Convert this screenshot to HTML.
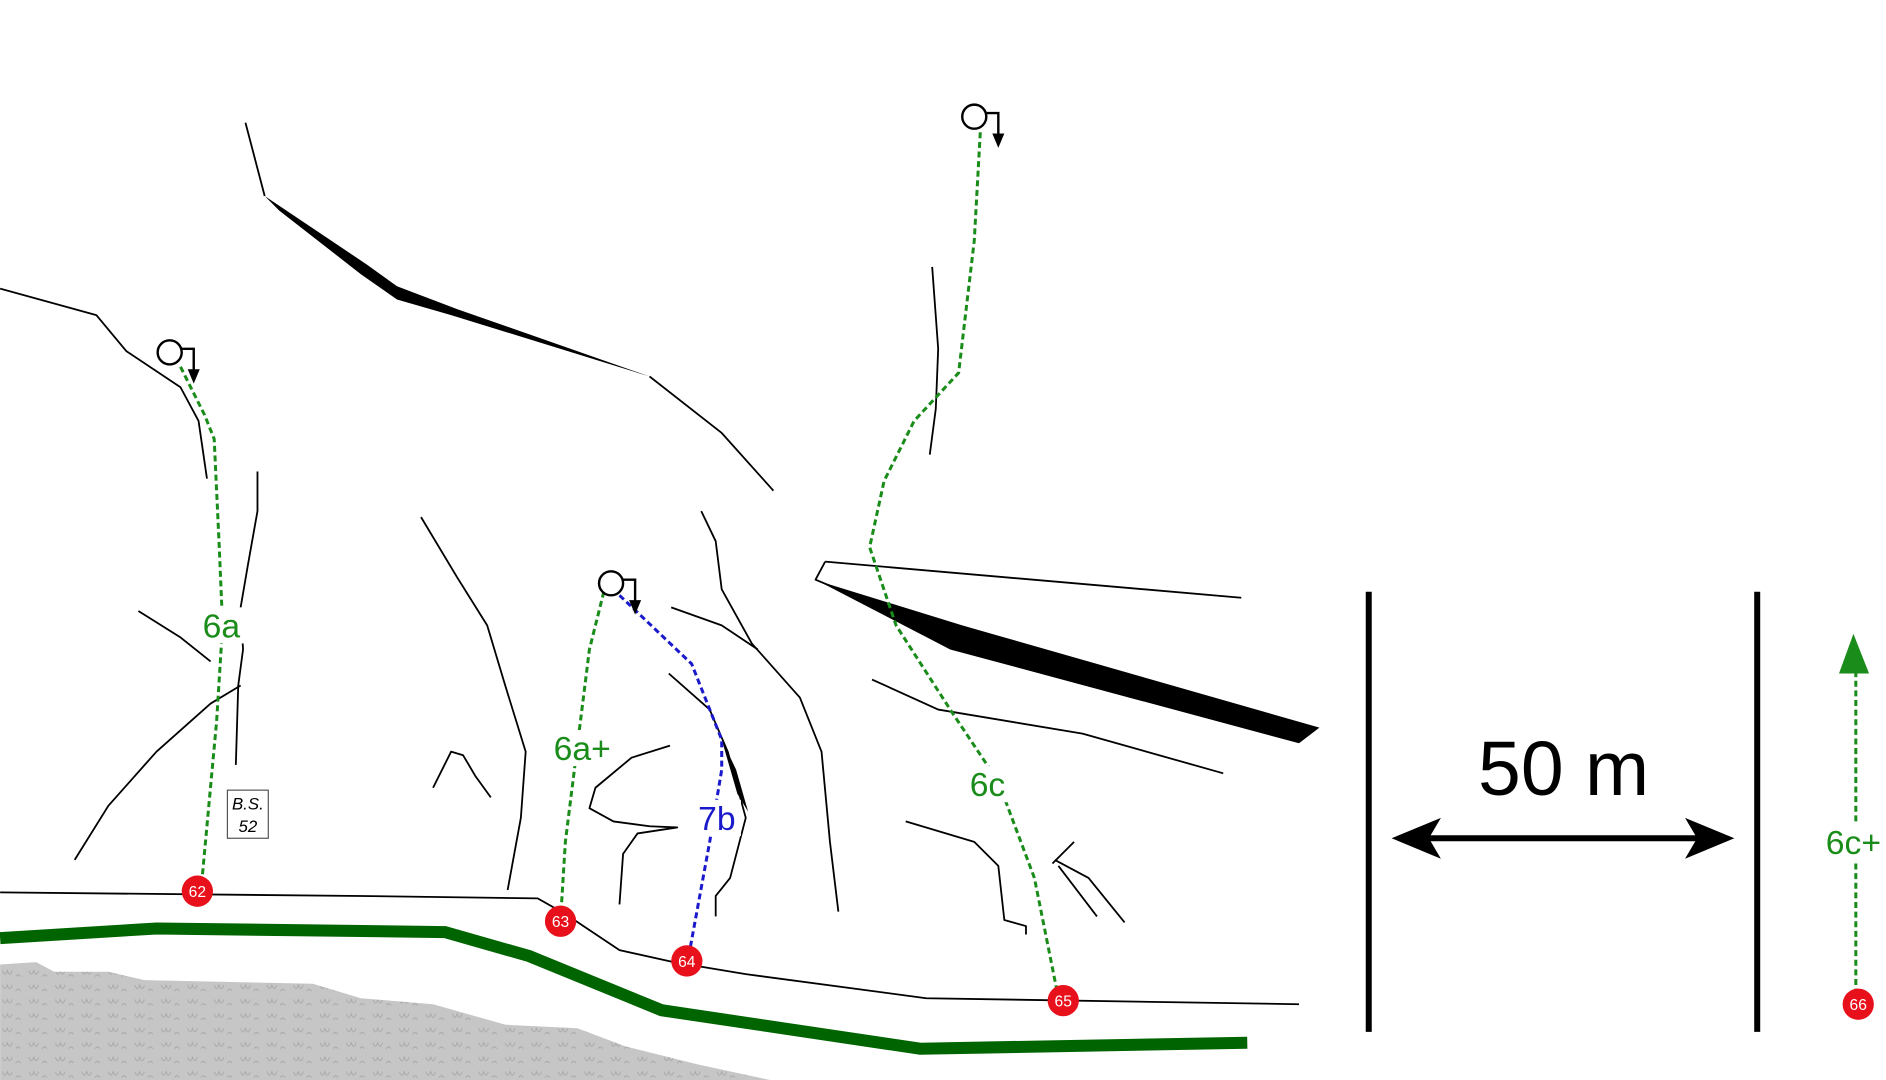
<!DOCTYPE html>
<html><head><meta charset="utf-8"><style>
html,body{margin:0;padding:0;background:#fff;}
svg{display:block;}
text{font-family:"Liberation Sans",sans-serif;}
</style></head><body>
<svg width="1886" height="1080" viewBox="0 0 1568 898" xmlns="http://www.w3.org/2000/svg">
<defs>
<pattern id="scr" width="22" height="12" patternUnits="userSpaceOnUse">
<rect width="22" height="12" fill="#c6c6c6"/>
<path d="M2 3 q2 6 4 0 q2 6 4 0 M13 8 q2 -3 4 0" stroke="#a8a8a8" fill="none" stroke-width="0.8"/>
</pattern>
<g id="anc"><circle cx="0" cy="0" r="10" fill="#fff" stroke="#000" stroke-width="2"/><path d="M10 -3 H20 V18" fill="none" stroke="#000" stroke-width="2"/><polygon points="15,14 25,14 20,26" fill="#000"/></g>
</defs>
<rect width="1568" height="898" fill="#fff"/>
<polygon points="0,802 30,800 45,808 90,808 120,815 260,818 300,830 360,835 420,852 480,855 520,870 580,885 640,898 0,898" fill="url(#scr)"/>
<g fill="none" stroke="#000" stroke-width="1.5" stroke-linejoin="round">
<polyline points="0,240 80,262 105,292 150,322 165,350 172,398"/>
<polyline points="204,102 220,163"/>
<polyline points="540,313 600,360 643,408"/>
<polyline points="214,392 214,425 206,470 200,505 202,540 198,570 196,636"/>
<polyline points="115,508 150,530 175,550"/>
<polyline points="62,715 90,670 130,625 175,585 200,570"/>
<polyline points="350,430 380,480 405,520 420,570 437,625 433,680 422,740"/>
<polyline points="360,655 375,625 385,628 395,645 408,663"/>
<polyline points="557,620 525,630 495,655 490,672 510,683 540,687 563,688 530,693 518,710 515,752"/>
<polyline points="583,425 595,450 600,490 625,535 665,580 683,625 690,700 697,758"/>
<polyline points="558,505 600,520 630,540"/>
<polyline points="556,560 590,590 605,625 620,680 607,730 595,745 595,762"/>
<polyline points="775,222 780,290 778,340 773,378"/>
<polyline points="686,467 1032,497"/>
<polyline points="686,467 678,482 690,487"/>
<polyline points="725,565 780,590 900,610 1017,643"/>
<polyline points="753,683 810,700 830,720 835,765 853,770 853,777"/>
<polyline points="875,718 893,700"/>
<polyline points="877,715 905,730 935,767"/>
<polyline points="880,720 912,762"/>
<polyline points="0,742 300,745 447,747 470,760 515,790 560,800 620,810 770,830 1080,835"/>
</g>
<g fill="#000">
<polygon points="220,163 305,220 330,238 380,257 540,313 375,262 330,249 300,228 232,175"/>
<polygon points="600,615 612,640 622,675 613,660"/>
<polygon points="680,483 800,520 1097,605 1080,618 790,540"/>
</g>
<polyline points="0,780 130,772 370,775 440,795 550,840 765,872 1037,867" fill="none" stroke="#006400" stroke-width="10"/>
<g stroke="#000" stroke-width="5"><line x1="1138" y1="492" x2="1138" y2="858"/><line x1="1461" y1="492" x2="1461" y2="858"/><line x1="1180" y1="697" x2="1420" y2="697"/></g>
<polygon points="1157,697 1198,680 1188,697 1198,714" fill="#000"/>
<polygon points="1442,697 1401,680 1411,697 1401,714" fill="#000"/>
<text x="1300" y="661" font-size="64" text-anchor="middle" fill="#000">50 m</text>
<g fill="none" stroke="#1a8c1a" stroke-width="2.5" stroke-dasharray="5 3">
<polyline points="150,305 170,345 178,365 182,450 185,520 180,600 168,730"/>
<polyline points="502,492 490,540 480,620 470,700 466,765"/>
<polyline points="815,110 810,200 797,310 760,350 735,400 723,455 745,520 790,590 830,650 860,730 880,830"/>
<line x1="1543" y1="558" x2="1543" y2="830"/>
</g>
<polyline points="515,495 575,552 600,615 600,640 590,700 572,798" fill="none" stroke="#1a1acc" stroke-width="2.5" stroke-dasharray="5 3"/>
<polygon points="1541,527 1529,560 1554,560" fill="#1a8c1a"/>
<g font-size="28" text-anchor="middle" fill="#1a8c1a">
<rect x="165" y="505" width="38" height="30" fill="#fff"/><text x="184" y="530">6a</text>
<rect x="456" y="607" width="58" height="30" fill="#fff"/><text x="484" y="632">6a+</text>
<rect x="804" y="637" width="36" height="30" fill="#fff"/><text x="821" y="662">6c</text>
<rect x="1515" y="685" width="53" height="30" fill="#fff"/><text x="1541" y="710">6c+</text>
<rect x="578" y="665" width="38" height="30" fill="#fff"/><text x="596" y="690" fill="#1a1acc">7b</text>
</g>
<rect x="189" y="657" width="34" height="40" fill="#fff" stroke="#555" stroke-width="1"/>
<text x="206" y="673" font-size="14" font-style="italic" text-anchor="middle">B.S.</text>
<text x="206" y="692" font-size="14" font-style="italic" text-anchor="middle">52</text>
<use href="#anc" x="141" y="293"/>
<use href="#anc" x="508" y="485"/>
<use href="#anc" x="810" y="97"/>
<g font-size="13" fill="#fff" text-anchor="middle">
<circle cx="164" cy="741" r="13" fill="#e8101a"/><text x="164" y="746">62</text>
<circle cx="466" cy="766" r="13" fill="#e8101a"/><text x="466" y="771">63</text>
<circle cx="571" cy="799" r="13" fill="#e8101a"/><text x="571" y="804">64</text>
<circle cx="884" cy="832" r="13" fill="#e8101a"/><text x="884" y="837">65</text>
<circle cx="1545" cy="835" r="13" fill="#e8101a"/><text x="1545" y="840">66</text>
</g>
</svg>
</body></html>
